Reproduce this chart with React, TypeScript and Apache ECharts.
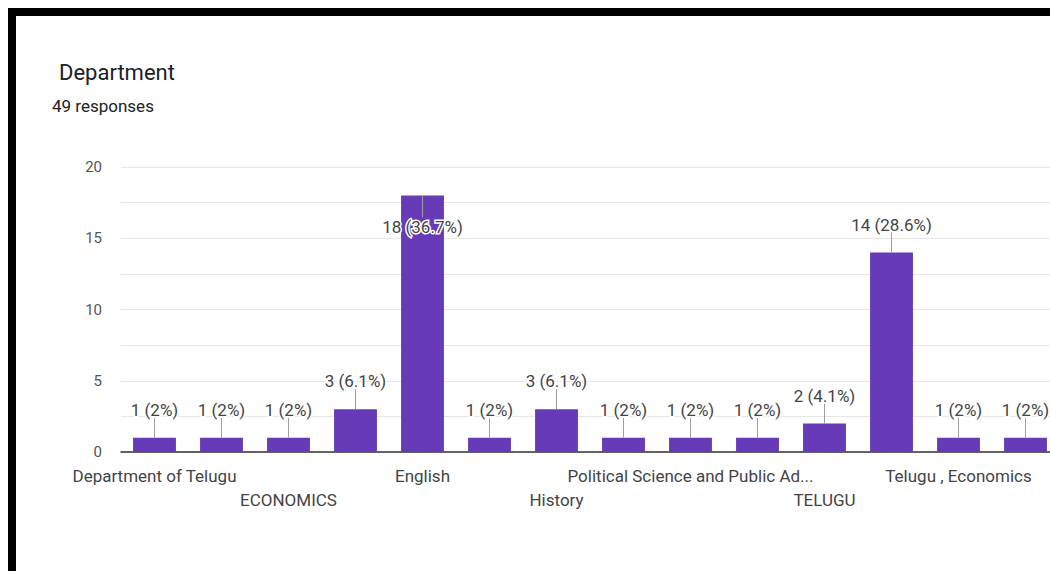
import React, { useEffect, useRef } from "react";
import * as echarts from "echarts";

const chartTitle = "Department";
const responsesText = "49 responses";
const categories = [
  "Department of Telugu",
  "Economics",
  "ECONOMICS",
  "Education",
  "English",
  "Hindi",
  "History",
  "Physics",
  "Political Science and Public Ad...",
  "Sanskrit",
  "TELUGU",
  "Telugu",
  "Telugu , Economics",
  "Zoology",
];
const counts = [1, 1, 1, 3, 18, 1, 3, 1, 1, 1, 2, 14, 1, 1];
const totalResponses = 49;
const yMin = 0;
const yMax = 20;
const yStep = 5;

const FONT = "Roboto, Arial, sans-serif";

function pctLabel(v: number): string {
  const p = Math.round((v / totalResponses) * 1000) / 10;
  return `${v} (${p}%)`;
}

export default function App() {
  const ref = useRef<HTMLDivElement>(null);
  useEffect(() => {
    if (!ref.current) return;
    const chart = echarts.init(ref.current, undefined, { renderer: "svg" });
    chart.setOption({
      animation: false,
      backgroundColor: "#ffffff",
      title: [
        {
          text: chartTitle,
          left: 54,
          top: 56,
          textStyle: { fontFamily: FONT, fontSize: 22, fontWeight: "normal", color: "#202124" },
        },
        {
          text: responsesText,
          left: 47,
          top: 92,
          textStyle: { fontFamily: FONT, fontSize: 17, fontWeight: "normal", color: "#202124" },
        },
      ],
      graphic: [
        { type: "rect", shape: { x: 8, y: 8, width: 1042, height: 8 }, style: { fill: "#000" }, z: 100 },
        { type: "rect", shape: { x: 8, y: 8, width: 8, height: 563 }, style: { fill: "#000" }, z: 100 },
      ],
      grid: {
        left: 121,
        top: 167,
        width: 938,
        bottom: 119,
        containLabel: false,
        outerBoundsMode: "none",
      },
      xAxis: {
        type: "category",
        data: categories,
        axisTick: { show: false },
        axisLine: { lineStyle: { color: "#333", width: 1.5 } },
        axisLabel: {
          interval: 1,
          margin: 12,
          lineHeight: 24,
          fontSize: 17,
          fontFamily: FONT,
          color: "#444",
          formatter: (val: string, idx: number) => (idx % 4 === 2 ? "\n" + val : val),
        },
      },
      yAxis: {
        type: "value",
        min: yMin,
        max: yMax,
        interval: yStep,
        axisLine: { show: false },
        axisTick: { show: false },
        axisLabel: { margin: 19, fontSize: 15, fontFamily: FONT, color: "#555" },
        splitLine: { lineStyle: { color: "#e6e6e6", width: 1 } },
        minorTick: { show: false, splitNumber: 2 },
        minorSplitLine: { show: true, lineStyle: { color: "#e6e6e6", width: 1 } },
      },
      series: [
        {
          type: "bar",
          data: counts,
          barCategoryGap: "36%",
          itemStyle: { color: "#673ab7" },
        },
        {
          type: "custom",
          data: counts.map((v, i) => [i, v]),
          encode: { x: 0, y: 1 },
          z: 10,
          clip: false,
          renderItem: (params: any, api: any) => {
            const idx = api.value(0);
            const v = api.value(1);
            const pt = api.coord([idx, v]);
            const cs = params.coordSys;
            const inside = pt[1] - 36 < cs.y;
            const lineEnd = inside ? pt[1] + 22 : pt[1] - 20;
            const textY = inside ? pt[1] + 31 : pt[1] - 28;
            return {
              type: "group",
              children: [
                {
                  type: "line",
                  shape: { x1: pt[0], y1: pt[1], x2: pt[0], y2: lineEnd },
                  style: { stroke: "#9e9e9e", lineWidth: 1 },
                },
                {
                  type: "text",
                  style: {
                    text: pctLabel(v),
                    x: pt[0],
                    y: textY,
                    align: "center",
                    verticalAlign: "middle",
                    fill: "#444",
                    font: `17px ${FONT}`,
                    stroke: "#ffffff",
                    lineWidth: 3,
                  },
                },
              ],
            };
          },
        },
      ],
    });
    return () => chart.dispose();
  }, []);
  return (
    <div
      ref={ref}
      style={{ position: "absolute", left: 0, top: 0, width: 1050, height: 571 }}
    />
  );
}
